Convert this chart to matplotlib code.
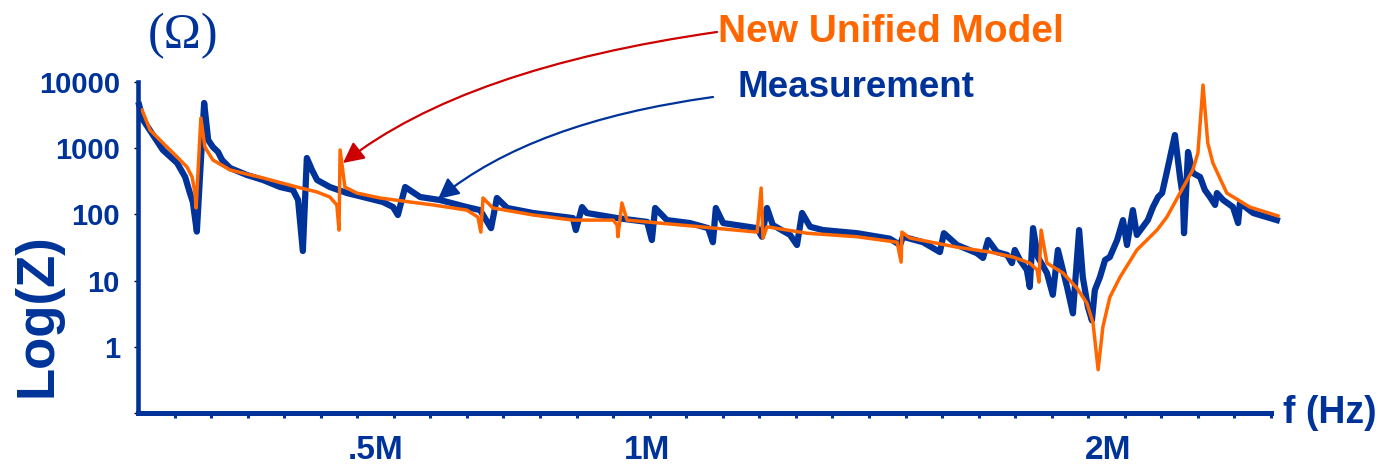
# Impedância medida x modelo unificado (Log(Z) versus f)
import numpy as np
import matplotlib.pyplot as plt
from matplotlib.patches import FancyArrowPatch
from matplotlib.path import Path

# Cores
azul = '#003399'
laranja = '#FF6600'
vermelho = '#CC0000'

# Eixo x em divisões da escala (0 a 31), y em ohms
x_med = [0.03, 0.14, 0.68, 1.07, 1.29, 1.42, 1.50, 1.61, 1.81, 1.92, 2.05, 2.19, 2.30, 2.52,
         2.98, 3.42, 3.89, 4.24, 4.38, 4.51, 4.62, 4.76, 4.90, 5.25, 5.72, 6.16, 6.70, 6.98,
         7.11, 7.31, 7.72, 8.26, 9.00, 9.36, 9.66, 9.82, 10.10, 10.81, 11.90, 11.98, 12.15,
         12.28, 13.11, 13.93, 14.06, 14.15, 14.47, 15.10, 15.60, 15.73, 15.81, 16.01, 16.94,
         17.07, 17.21, 17.37, 17.84, 18.03, 18.17, 18.39, 18.74, 19.67, 20.57, 20.85, 20.93,
         21.48, 21.94, 22.05, 22.41, 22.95, 23.12, 23.26, 23.50, 23.78, 23.91, 23.99, 24.13,
         24.32, 24.40, 24.49, 24.62, 24.87, 25.03, 25.17, 25.42, 25.58, 25.75, 25.85, 25.99,
         26.10, 26.18, 26.32, 26.46, 26.59, 26.79, 26.95, 27.06, 27.22, 27.33, 27.63, 27.77,
         27.91, 28.02, 28.18, 28.37, 28.51, 28.59, 28.62, 28.73, 28.86, 29.06, 29.19, 29.33,
         29.47, 29.52, 29.69, 29.96, 30.10, 30.15, 30.51, 31.16]
z_med = [4500, 2670, 940, 598, 367, 210, 154, 55, 4820, 1330, 1040, 877, 663, 502,
         394, 331, 259, 234, 165, 28, 711, 469, 331, 259, 210, 183, 154, 129,
         98, 259, 183, 165, 129, 116, 62, 177, 125, 105, 88, 58, 129,
         105, 88, 77, 41, 125, 82, 74, 62, 38, 125, 74, 62,
         46, 125, 69, 49, 34.5, 105, 65, 58, 52, 43, 34.5, 46,
         38, 27, 52, 34.5, 26, 22, 41, 27, 24.4, 18.4, 29, 20.5,
         14.5, 8, 62, 22.7, 13, 6.1, 29, 8, 3.2, 58, 11.3, 4,
         2.5, 7.2, 11.3, 20.5, 22.7, 41, 82, 34.5, 116, 49, 82, 129,
         183, 210, 520, 1580, 367, 183, 52, 877, 422, 367, 234, 183,
         139, 210, 165, 129, 74, 149, 105, 82]

x_mod = [0.11, 0.33, 0.68, 1.07, 1.34, 1.48, 1.56, 1.59, 1.72, 1.83, 2.05, 2.52, 3.42, 4.35,
         4.90, 5.25, 5.44, 5.50, 5.53, 5.66, 5.99, 6.62, 7.44, 8.07, 9.00, 9.30, 9.38, 9.44,
         9.71, 10.81, 11.90, 13.00, 13.11, 13.13, 13.24, 13.38, 15.38, 16.94, 17.05, 17.10,
         17.21, 18.30, 19.67, 20.77, 20.88, 20.90, 21.12, 22.41, 23.31, 23.94, 24.40, 24.60,
         24.65, 24.71, 24.87, 25.31, 25.69, 25.96, 26.13, 26.27, 26.40, 26.59, 26.87, 27.33,
         27.88, 28.15, 28.51, 28.86, 29.00, 29.14, 29.27, 29.41, 29.79, 30.42, 31.19]
z_mod = [3780, 1880, 1200, 736, 520, 367, 210, 125, 2860, 1040, 663, 469, 355, 259,
         218, 183, 139, 58, 940, 259, 210, 177, 154, 139, 116, 91, 54, 177,
         125, 98, 82, 82, 69, 46, 149, 82, 65, 54, 250, 44,
         65, 52, 46, 38, 19, 54, 44, 32, 27, 22.7, 18.4, 14.5,
         9.5, 58, 18.4, 13, 7.7, 4.6, 2.3, 0.45, 2, 5.6, 11.3, 29,
         58, 91, 210, 469, 846, 9000, 1200, 598, 210, 129, 95]

y_ticks = [0.1, 1, 10, 100, 1000, 10000]
y_rotulos = ['', '1', '10', '100', '1000', '10000']
x_pos_rotulos = [6.51, 13.93, 26.54]
x_rotulos = ['.5M', '1M', '2M']

W, H = 1384, 465
def fx(p): return p / W
def fy(p): return 1 - p / H

plt.rcParams['font.family'] = ['Liberation Sans', 'DejaVu Sans']
plt.rcParams['font.weight'] = 'bold'

fig = plt.figure(figsize=(W / 100, H / 100), dpi=100)
ax = fig.add_axes([fx(138), fy(413), fx(1271) - fx(138), fy(82) - fy(413)])

ax.plot(x_med, z_med, color=azul, lw=4.5, solid_joinstyle='round', clip_on=False)
ax.plot(x_mod, z_mod, color=laranja, lw=2.5, solid_joinstyle='round', clip_on=False)

ax.set_yscale('log')
ax.set_ylim(0.1, 10000)
ax.set_xlim(0, 31)

for s in ['top', 'right']:
    ax.spines[s].set_visible(False)
ax.spines['left'].set_color(azul)
ax.spines['left'].set_linewidth(3.3)
ax.spines['bottom'].set_color(azul)
ax.spines['bottom'].set_linewidth(3.6)

ax.set_yticks(y_ticks)
ax.set_yticklabels(y_rotulos)
ax.minorticks_off()
ax.tick_params(axis='y', colors='black', length=3, width=1, pad=10,
               labelsize=21, labelcolor=azul)

ax.set_xticks(np.arange(1, 32))
ax.set_xticklabels([])
ax.set_xticks(x_pos_rotulos, minor=True)
ax.set_xticklabels(x_rotulos, minor=True)
ax.tick_params(axis='x', which='major', colors=azul, length=3.5, width=2.2)
ax.tick_params(axis='x', which='minor', length=0, pad=16, labelsize=24, labelcolor=azul)

# Textos
fig.text(fx(183), fy(36), '(\u03a9)', family='Liberation Serif', weight='normal',
         fontsize=36, color=azul, ha='center', va='center')
fig.text(fx(38), fy(315), 'Log(Z)', fontsize=38, color=azul, rotation=90,
         ha='center', va='center')
fig.text(fx(1283), fy(413), 'f (Hz)', fontsize=27, color=azul, ha='left', va='center')
fig.text(fx(718), fy(42), 'New Unified Model', fontsize=28, color=laranja,
         ha='left', va='baseline')
fig.text(fx(738), fy(97), 'Measurement', fontsize=26.5, color=azul,
         ha='left', va='baseline')

# Setas curvas
def seta(p0, pc, p1, cor):
    caminho = Path([(fx(p0[0]), fy(p0[1])), (fx(pc[0]), fy(pc[1])), (fx(p1[0]), fy(p1[1]))],
                   [Path.MOVETO, Path.CURVE3, Path.CURVE3])
    a = FancyArrowPatch(path=caminho, arrowstyle='-|>,head_length=0.9,head_width=0.45',
                        mutation_scale=14, color=cor, lw=1.6)
    fig.add_artist(a)

seta((717, 32), (465, 68), (343, 163), vermelho)
seta((713, 97), (532, 122), (438, 199), azul)

plt.savefig('out.png', dpi=100)
